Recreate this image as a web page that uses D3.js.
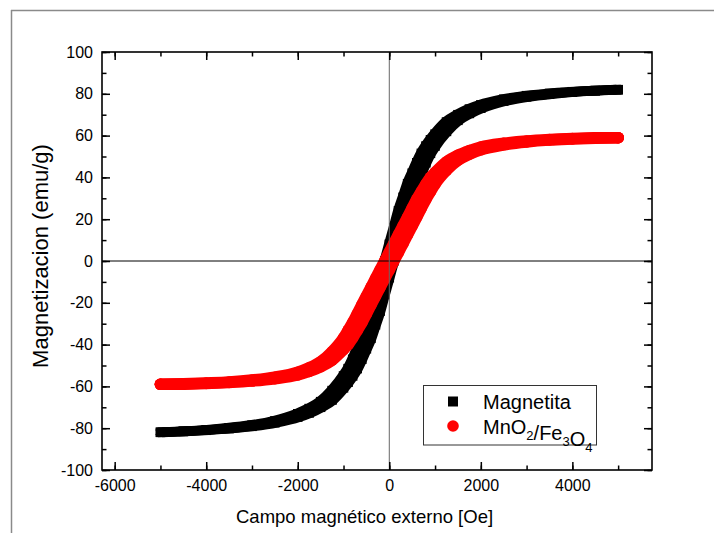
<!DOCTYPE html>
<html>
<head>
<meta charset="utf-8">
<script src="https://cdn.jsdelivr.net/npm/d3@7"></script>
<style>
  html, body { margin: 0; padding: 0; background: #fff; }
  svg { display: block; }
  text { font-family: "Liberation Sans", Arial, sans-serif; fill: #000; }
</style>
</head>
<body>
<script>
// ---------- DATA ----------
const fieldOe = [-5000,-4500,-4000,-3500,-3000,-2500,-2000,-1750,-1500,-1250,-1000,-900,-800,-700,-600,-500,-400,-300,-200,-100,0,100,200,300,400,500,600,700,800,900,1000,1250,1500,1750,2000,2500,3000,3500,4000,4500,5000];

// Magnetita: descending (upper) and ascending (lower) branches, emu/g
const magnetitaDown = [-81.9,-81.4,-80.8,-79.8,-78.5,-76.5,-73.1,-70.6,-67.3,-62,-55,-51.5,-47,-42,-37,-30.5,-24,-16,-8,0,8,16,24,30.5,37,42,47,51.5,55,58,60.7,66.5,70,72.7,74.7,77.4,79.1,80.2,81,81.6,82];
const magnetitaUp   = [-82,-81.6,-81,-80.2,-79.1,-77.4,-74.7,-72.7,-70,-66.5,-60.7,-58,-55,-51.5,-47,-42,-37,-30.5,-24,-16,-8,0,8,16,24,30.5,37,42,47,51.5,55,62,67.3,70.6,73.1,76.5,78.5,79.8,80.8,81.4,81.9];

// MnO2/Fe3O4
const compositeDown = [-59,-58.8,-58.4,-57.9,-57,-55.6,-53.2,-51.1,-48.2,-43.4,-36.8,-33.2,-29.5,-25.3,-21,-16.8,-12.6,-8.4,-4.2,0,4.2,8.4,12.6,16.8,21,25.3,29.5,33.2,36.8,40,42.3,47.4,50.6,52.8,54.5,56.3,57.4,58.1,58.6,58.9,59];
const compositeUp   = [-59,-58.9,-58.6,-58.1,-57.4,-56.3,-54.5,-52.8,-50.6,-47.4,-42.3,-40,-36.8,-33.2,-29.5,-25.3,-21,-16.8,-12.6,-8.4,-4.2,0,4.2,8.4,12.6,16.8,21,25.3,29.5,33.2,36.8,43.4,48.2,51.1,53.2,55.6,57,57.9,58.4,58.8,59];

const xMajorTicks = [-6000,-4000,-2000,0,2000,4000];
const xMinorTicks = [-6000,-5000,-4000,-3000,-2000,-1000,0,1000,2000,3000,4000,5000];
const yMajorTicks = [-100,-80,-60,-40,-20,0,20,40,60,80,100];
const yMinorTicks = [-100,-90,-80,-70,-60,-50,-40,-30,-20,-10,0,10,20,30,40,50,60,70,80,90,100];

const seriesNames = ["Magnetita", "MnO2/Fe3O4"];
const xTitle = "Campo magnético externo [Oe]";
const yTitle = "Magnetizacion (emu/g)";

// ---------- LAYOUT ----------
const W = 714, H = 533;
const plot = {left: 102, top: 52, right: 652, bottom: 470};

const svg = d3.select("body").append("svg").attr("width", W).attr("height", H);
svg.append("rect").attr("width", W).attr("height", H).attr("fill", "#fff");

// page border (top and left)
svg.append("line").attr("x1", 11).attr("x2", W).attr("y1", 10.5).attr("y2", 10.5)
  .attr("stroke", "#8a8a8a").attr("stroke-width", 1.5);
svg.append("line").attr("x1", 11.5).attr("x2", 11.5).attr("y1", 10).attr("y2", H)
  .attr("stroke", "#8a8a8a").attr("stroke-width", 1.5);

const x = d3.scaleLinear().domain([-6277, 5740]).range([plot.left, plot.right]);
const y = d3.scaleLinear().domain([-100, 100]).range([plot.bottom, plot.top]);

const g = svg.append("g");

// ---------- SERIES ----------
svg.append("defs").append("clipPath").attr("id", "clip")
  .append("rect").attr("x", plot.left).attr("y", plot.top)
  .attr("width", plot.right - plot.left).attr("height", plot.bottom - plot.top);

const line = d3.line().x(d => x(d[0])).y(d => y(d[1])).curve(d3.curveMonotoneX);
const zip = (a, b) => a.map((v, i) => [v, b[i]]);

const series = [
  {name: seriesNames[0], color: "#000", shape: "square", branches: [zip(fieldOe, magnetitaDown), zip(fieldOe, magnetitaUp)]},
  {name: seriesNames[1], color: "#ff0000", shape: "circle", branches: [zip(fieldOe, compositeDown), zip(fieldOe, compositeUp)]}
];

const dataG = g.append("g").attr("clip-path", "url(#clip)");
const SQ = 9.5, R = 5.8;

series.forEach(s => {
  const sg = dataG.append("g");
  s.branches.forEach(br => {
    if (s.shape === "square") {
      // sweep of a square marker: thin round strokes at the four corners
      const off = (SQ - 5) / 2;
      [[-off,-off],[off,off],[-off,off],[off,-off],[0,0]].forEach(([dx, dy]) => {
        sg.append("path").attr("d", line(br)).attr("fill", "none")
          .attr("stroke", s.color).attr("stroke-width", 5)
          .attr("stroke-linecap", "round").attr("stroke-linejoin", "round")
          .attr("transform", `translate(${dx},${dy})`);
      });
      sg.selectAll(null).data(br).enter().append("rect")
        .attr("x", d => x(d[0]) - SQ / 2).attr("y", d => y(d[1]) - SQ / 2)
        .attr("width", SQ).attr("height", SQ).attr("fill", s.color);
    } else {
      sg.append("path").attr("d", line(br)).attr("fill", "none")
        .attr("stroke", s.color).attr("stroke-width", 2 * R)
        .attr("stroke-linecap", "round").attr("stroke-linejoin", "round");
      sg.selectAll(null).data(br).enter().append("circle")
        .attr("cx", d => x(d[0])).attr("cy", d => y(d[1])).attr("r", R).attr("fill", s.color);
    }
  });
});

// zero lines
g.append("line").attr("x1", plot.left).attr("x2", plot.right)
  .attr("y1", y(0)).attr("y2", y(0)).attr("stroke", "#000").attr("stroke-width", 1);
g.append("line").attr("x1", x(0)).attr("x2", x(0))
  .attr("y1", plot.top).attr("y2", plot.bottom).attr("stroke", "#666").attr("stroke-width", 1);

// ---------- AXES ----------
const FS = 16;
const fmt = d => String(d); // plain hyphen-minus like the reference
function styleAxis(sel) {
  sel.select(".domain").remove();
  sel.selectAll(".tick line").attr("stroke", "#000").attr("stroke-width", 1.5);
  sel.selectAll("text").style("font-size", FS + "px")
    .style("font-family", '"Liberation Sans", Arial, sans-serif').attr("fill", "#000");
}
const MAJ = 8, MIN = 4.5;

// bottom
g.append("g").attr("transform", `translate(0,${plot.bottom})`)
  .call(d3.axisBottom(x).tickValues(xMinorTicks).tickFormat("").tickSizeInner(-MIN).tickSizeOuter(0)).call(styleAxis);
g.append("g").attr("transform", `translate(0,${plot.bottom})`)
  .call(d3.axisBottom(x).tickValues(xMajorTicks).tickFormat(fmt).tickSizeInner(-MAJ).tickSizeOuter(0).tickPadding(10))
  .call(styleAxis);
// top
g.append("g").attr("transform", `translate(0,${plot.top})`)
  .call(d3.axisTop(x).tickValues(xMinorTicks).tickFormat("").tickSizeInner(-MIN).tickSizeOuter(0)).call(styleAxis);
g.append("g").attr("transform", `translate(0,${plot.top})`)
  .call(d3.axisTop(x).tickValues(xMajorTicks).tickFormat("").tickSizeInner(-MAJ).tickSizeOuter(0)).call(styleAxis);
// left
g.append("g").attr("transform", `translate(${plot.left},0)`)
  .call(d3.axisLeft(y).tickValues(yMinorTicks).tickFormat("").tickSizeInner(-MIN).tickSizeOuter(0)).call(styleAxis);
g.append("g").attr("transform", `translate(${plot.left},0)`)
  .call(d3.axisLeft(y).tickValues(yMajorTicks).tickFormat(fmt).tickSizeInner(-MAJ).tickSizeOuter(0).tickPadding(9))
  .call(styleAxis);
// right
g.append("g").attr("transform", `translate(${plot.right},0)`)
  .call(d3.axisRight(y).tickValues(yMinorTicks).tickFormat("").tickSizeInner(-MIN).tickSizeOuter(0)).call(styleAxis);
g.append("g").attr("transform", `translate(${plot.right},0)`)
  .call(d3.axisRight(y).tickValues(yMajorTicks).tickFormat("").tickSizeInner(-MAJ).tickSizeOuter(0)).call(styleAxis);

// frame
g.append("rect").attr("x", plot.left).attr("y", plot.top)
  .attr("width", plot.right - plot.left).attr("height", plot.bottom - plot.top)
  .attr("fill", "none").attr("stroke", "#000").attr("stroke-width", 1.6);

// ---------- TITLES ----------
svg.append("text").attr("x", 236).attr("y", 523).style("font-size", "18.5px").text(xTitle);
svg.append("text").attr("transform", `translate(48,256) rotate(-90)`)
  .attr("text-anchor", "middle").style("font-size", "22px").text(yTitle);

// ---------- LEGEND ----------
const lg = svg.append("g");
lg.append("rect").attr("x", 423.5).attr("y", 385.5).attr("width", 173).attr("height", 59.5)
  .attr("fill", "#fff").attr("stroke", "#333").attr("stroke-width", 1);
lg.append("rect").attr("x", 453 - 5).attr("y", 401.5 - 5).attr("width", 10).attr("height", 10).attr("fill", "#000");
lg.append("circle").attr("cx", 453).attr("cy", 426).attr("r", 5.8).attr("fill", "#ff0000");
lg.append("text").attr("x", 483).attr("y", 408.5).style("font-size", "20px").text(seriesNames[0]);
const t2 = lg.append("text").attr("x", 483).attr("y", 433.5).style("font-size", "20px");
// "MnO2/Fe3O4" with subscripts
const parts = seriesNames[1].match(/[A-Za-z\/]+|\d+/g);
parts.forEach(p => {
  if (/^\d+$/.test(p)) {
    t2.append("tspan").attr("dy", 6).style("font-size", "13px").text(p);
    t2.append("tspan").attr("dy", -6).text("");
  } else {
    t2.append("tspan").text(p);
  }
});
</script>
</body>
</html>
